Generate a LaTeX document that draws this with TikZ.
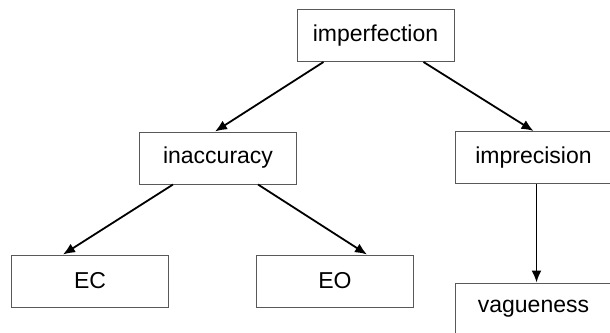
\documentclass[tikz,border=0pt]{standalone}
\usepackage{fontspec}
\setmainfont{Liberation Sans}
\usetikzlibrary{arrows.meta}

\begin{document}
\begin{tikzpicture}[x=1pt,y=-1pt]

\tikzset{term/.style = {shape=rectangle,draw=black!65,line width=1pt,minimum width=157pt,minimum height=52pt,font=\fontsize{23}{27}\selectfont}}
\tikzset{edge/.style = {-{Latex[length=12pt,width=10pt]},line width=1.8pt}}
\useasboundingbox (0,0) rectangle (610,332);
% terms
\node[term] (imperfection) at (375.5,35.5) {imperfection};
\node[term] (inaccuracy) at (218,158) {inaccuracy};
\node[term] (imprecision) at (533.5,157.5) {imprecision};
\node[term] (ec) at (90,281) {EC};
\node[term] (eo) at (335,281) {EO};
\node[term] (vagueness) at (533.5,309) {vagueness};

%edges
\draw [edge] ([xshift=-52pt]imperfection.south) -- ([xshift=-3pt]inaccuracy.north);
\draw [edge] ([xshift=48pt]imperfection.south) -- (imprecision.north);
\draw [edge] ([xshift=-45pt]inaccuracy.south) -- ([xshift=-27pt]ec.north);
\draw [edge] ([xshift=40pt]inaccuracy.south) -- ([xshift=32pt]eo.north);
\draw [edge] ([xshift=3pt]imprecision.south) -- ([xshift=3pt]vagueness.north);

\end{tikzpicture}
\end{document}
